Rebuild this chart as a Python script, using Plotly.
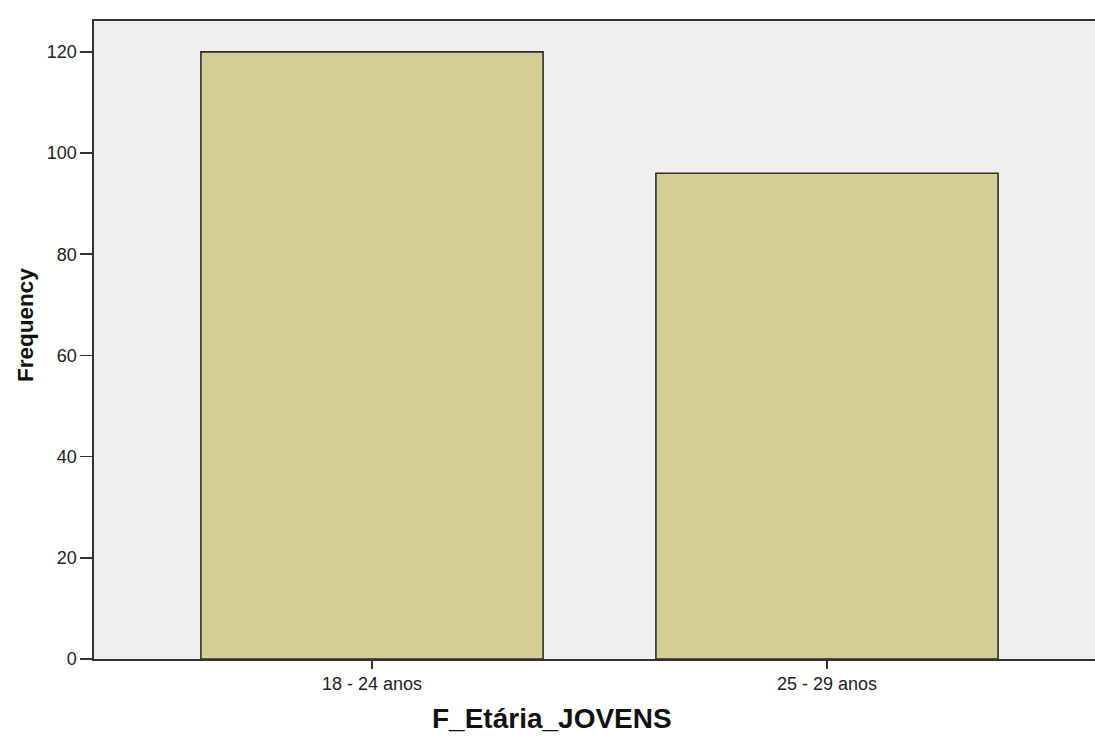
import plotly.graph_objects as go

categories = ["18 - 24 anos", "25 - 29 anos"]
frequencies = [120, 96]
y_ticks = [0, 20, 40, 60, 80, 100, 120]
x_title = "F_Etária_JOVENS"
y_title = "Frequency"

fig = go.Figure()
fig.add_trace(go.Bar(
    x=[0, 1],
    y=frequencies,
    width=0.752,
    marker=dict(color="#d3ce97", line=dict(color="#2e2e2a", width=1.6)),
    hoverinfo="skip",
))

fig.update_layout(
    width=1095, height=743,
    margin=dict(l=94, r=0, t=21, b=84),
    paper_bgcolor="white",
    plot_bgcolor="#efefef",
    showlegend=False,
    font=dict(family="Liberation Sans, Arial, sans-serif", color="#222"),
    xaxis=dict(
        range=[-0.611, 1.589],
        tickmode="array", tickvals=[0, 1], ticktext=categories,
        ticks="outside", ticklen=8, tickwidth=1.5, tickcolor="#333",
        tickfont=dict(size=18, color="#222"),
        showline=True, linecolor="#333", linewidth=1.6, mirror=True,
        showgrid=False, zeroline=False, fixedrange=True,
    ),
    yaxis=dict(
        range=[0, 126.1],
        tickmode="array", tickvals=y_ticks,
        ticks="outside", ticklen=12, tickwidth=1.5, tickcolor="#333",
        tickfont=dict(size=18, color="#222"),
        showline=True, linecolor="#333", linewidth=1.6, mirror=False,
        showgrid=False, zeroline=False, fixedrange=True,
    ),
    annotations=[
        dict(text="<b>" + x_title + "</b>", xref="paper", yref="paper",
             x=0.4575, y=-0.0925, xanchor="center", yanchor="middle",
             showarrow=False, font=dict(size=28, color="#111")),
        dict(text="<b>" + y_title + "</b>", xref="paper", yref="paper",
             x=-0.0689, y=0.5235, xanchor="center", yanchor="middle",
             textangle=-90, showarrow=False, font=dict(size=22.5, color="#111")),
    ],
)

page_css = (
    "document.body.style.margin='0';"
    "document.body.style.overflow='hidden';"
    "document.documentElement.style.overflow='hidden';"
)
fig.write_html("out.html", post_script=page_css,
               config={"displayModeBar": False, "staticPlot": True})
